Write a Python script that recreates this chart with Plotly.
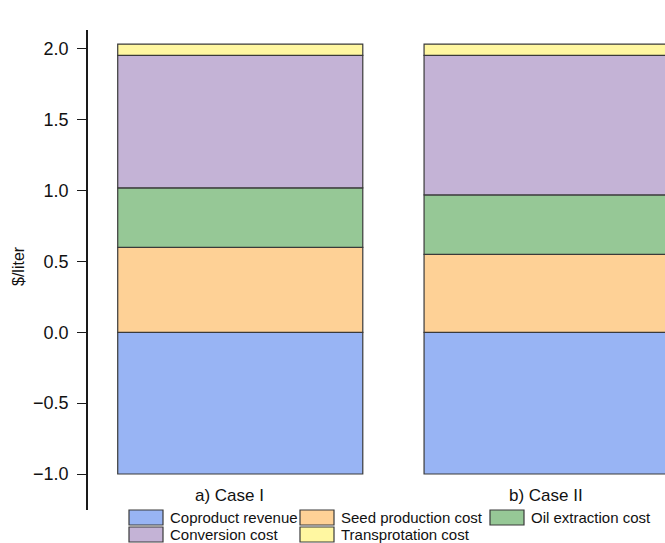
import plotly.graph_objects as go

# Cost breakdown per case ($/liter)
cases = ["a) Case I", "b) Case II"]
series_names = ["Coproduct revenue", "Seed production cost", "Oil extraction cost",
                "Conversion cost", "Transprotation cost"]
coproduct_revenue = [-1.00, -1.00]
seed_production = [0.60, 0.55]
oil_extraction = [0.42, 0.42]
conversion = [0.935, 0.985]
transportation = [0.08, 0.08]
y_ticks = [-1.0, -0.5, 0.0, 0.5, 1.0, 1.5, 2.0]

colors = ["#98b4f4", "#fed196", "#96c896", "#c4b3d6", "#fff7a1"]
values = [coproduct_revenue, seed_production, oil_extraction, conversion, transportation]
edge = "#3a3a3a"
font_family = "Liberation Sans, Arial, sans-serif"

W, H = 665, 543
L, R, T, B = 88, 0, 30, 33
pw, ph = W - L - R, H - T - B


def px_x(px):
    return (px - L) / pw


def px_y(py):
    return (H - B - py) / ph


fig = go.Figure()
for name, vals, col in zip(series_names, values, colors):
    fig.add_trace(go.Bar(
        x=cases, y=vals, name=name, width=0.8,
        marker=dict(color=col, line=dict(color=edge, width=1.2)),
        showlegend=False,
    ))

# Case labels under the bars
for label, cx in zip(cases, [229, 546]):
    fig.add_annotation(x=px_x(cx), y=px_y(495), xref="paper", yref="paper",
                       text=label, showarrow=False, xanchor="center", yanchor="middle",
                       font=dict(size=17, color="#111", family=font_family))

# Legend drawn as a two-row grid of swatches
legend_cols = [129, 300, 490]
legend_rows = [510, 527]
sw_w, sw_h = 34, 15
for i, (name, col) in enumerate(zip(series_names, colors)):
    r, c = divmod(i, 3)
    x0, y0 = legend_cols[c], legend_rows[r]
    fig.add_shape(type="rect", xref="paper", yref="paper",
                  x0=px_x(x0), x1=px_x(x0 + sw_w), y0=px_y(y0), y1=px_y(y0 + sw_h),
                  fillcolor=col, line=dict(color=edge, width=1.2), layer="above")
    fig.add_annotation(x=px_x(x0 + sw_w + 5), y=px_y(y0 + sw_h / 2 - 0.5),
                       xref="paper", yref="paper", text=name, showarrow=False,
                       xanchor="left", yanchor="middle",
                       font=dict(size=15, color="#111", family=font_family))

# Y axis title
fig.add_annotation(x=px_x(18), y=px_y(266), xref="paper", yref="paper",
                   text="$/liter", textangle=-90, showarrow=False,
                   xanchor="center", yanchor="middle",
                   font=dict(size=16, color="#111", family=font_family))

fig.update_layout(
    width=W, height=H,
    margin=dict(l=L, r=R, t=T, b=B, pad=0),
    barmode="relative",
    bargap=0.2,
    plot_bgcolor="white", paper_bgcolor="white",
    font=dict(family=font_family, color="#111"),
    xaxis=dict(range=[-0.497, 1.3865], showline=False, showticklabels=False,
               ticks="", showgrid=False, zeroline=False),
    yaxis=dict(range=[-1.254, 2.134], tickvals=y_ticks, tickformat=".1f",
               showline=True, linecolor="#1a1a1a", linewidth=1.6,
               ticks="outside", ticklen=9, tickwidth=1.4, tickcolor="#1a1a1a",
               ticklabelstandoff=5,
               showgrid=False, zeroline=False,
               tickfont=dict(size=18, color="#111", family=font_family)),
)

fig.write_html("out.html")
